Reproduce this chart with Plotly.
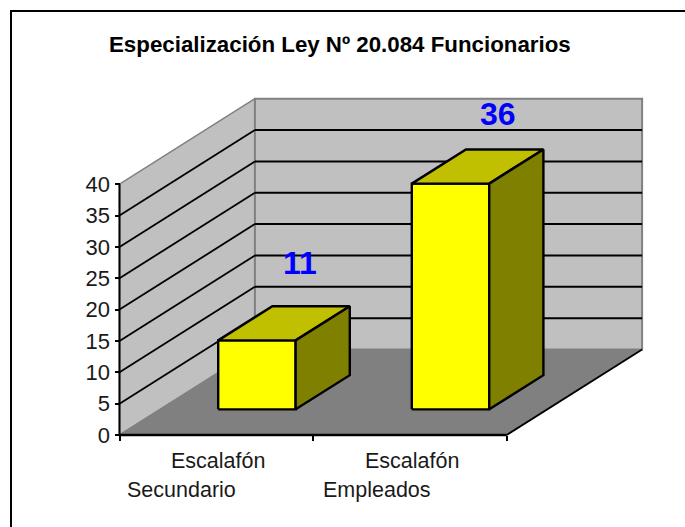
import plotly.graph_objects as go

# ---- data ----
title = "Especialización Ley Nº 20.084 Funcionarios"
categories = [["Escalafón", "Secundario"], ["Escalafón", "Empleados"]]
values = [11, 36]
y_ticks = [0, 5, 10, 15, 20, 25, 30, 35, 40]

# ---- style / projection ----
W, H = 685, 527
X0, Y0 = 119.5, 435.0        # pixel position of category 0, value 0
PX_CAT = 193.6               # pixels per category
PX_VAL = 6.27                # pixels per value unit
DEPTH_X, DEPTH_Y = 135.4, 85.5  # pixel shift of the full chart depth
BAR_LO, BAR_HI = 0.3, 0.7
LABEL_XSHIFT = [16, 20]
LABEL_YSHIFT = [60, 53]
LINE2_XSHIFT = [-35, -33]

WALL, FLOOR, EDGE = "#C0C0C0", "#808080", "#808080"
FRONT, TOP, SIDE = "#FFFF00", "#C0C000", "#808000"
FONT = "Liberation Sans"
INK = "#1a1a1a"


def proj(u, v, d):
    """Oblique projection: category position, value, depth -> axis coordinates."""
    return u + d * DEPTH_X / PX_CAT, v + d * DEPTH_Y / PX_VAL


def poly(pts, fill=None, line="black", width=2.4):
    xs, ys = zip(*[proj(*p) for p in pts])
    closed = fill is not None
    return go.Scatter(
        x=list(xs) + ([xs[0]] if closed else []),
        y=list(ys) + ([ys[0]] if closed else []),
        mode="lines",
        fill="toself" if closed else None,
        fillcolor=fill,
        line=dict(color=line, width=width),
        hoverinfo="skip",
        showlegend=False,
    )


n = len(categories)
top = max(y_ticks)
fig = go.Figure()

# walls and floor
fig.add_trace(poly([(0, 0, 0), (0, 0, 1), (0, top, 1), (0, top, 0)], WALL, EDGE, 1.5))
fig.add_trace(poly([(0, 0, 1), (n, 0, 1), (n, top, 1), (0, top, 1)], WALL, EDGE, 2))
fig.add_trace(poly([(0, 0, 0), (n, 0, 0), (n, 0, 1), (0, 0, 1)], FLOOR, EDGE, 1))

# gridlines
for t in y_ticks[1:-1]:
    fig.add_trace(poly([(0, t, 0), (0, t, 1)], None, "black", 1.8))
    fig.add_trace(poly([(0, t, 1), (n, t, 1)], None, "black", 2))

# front axis lines and right floor edge
fig.add_trace(poly([(0, 0, 0), (0, top, 0)], None, "black", 2))
fig.add_trace(poly([(0, 0, 0), (n, 0, 0)], None, "black", 2.4))
fig.add_trace(poly([(n, 0, 0), (n, 0, 1)], None, "black", 1.8))

# bars
for i, val in enumerate(values):
    a, b = i + BAR_LO, i + BAR_HI
    d0, d1 = BAR_LO, BAR_HI
    fig.add_trace(poly([(a, 0, d0), (b, 0, d0), (b, val, d0), (a, val, d0)], FRONT))
    fig.add_trace(poly([(a, val, d0), (b, val, d0), (b, val, d1), (a, val, d1)], TOP))
    fig.add_trace(poly([(b, 0, d0), (b, 0, d1), (b, val, d1), (b, val, d0)], SIDE))

# data labels
annotations = []
for i, val in enumerate(values):
    x, y = proj(i + 0.5, val, 0.5)
    annotations.append(dict(x=x, y=y, text=str(val), showarrow=False,
                            xshift=LABEL_XSHIFT[i], yshift=LABEL_YSHIFT[i],
                            xanchor="center", yanchor="middle",
                            font=dict(family=FONT, size=32, color="#0000FF", weight="bold")))

# category labels
for i, lines in enumerate(categories):
    annotations.append(dict(x=i + 0.5, y=0, text=lines[0], showarrow=False, xshift=2, yshift=-26,
                            xanchor="center", yanchor="middle",
                            font=dict(family=FONT, size=21.5, color=INK)))
    annotations.append(dict(x=i + 0.5, y=0, text=lines[1], showarrow=False, xshift=LINE2_XSHIFT[i], yshift=-55,
                            xanchor="center", yanchor="middle",
                            font=dict(family=FONT, size=21.5, color=INK)))

# title
annotations.append(dict(xref="paper", yref="paper", x=340 / W, y=1 - 44 / H, text=title, showarrow=False,
                        xanchor="center", yanchor="middle",
                        font=dict(family=FONT, size=22.3, color="black", weight="bold")))

fig.update_layout(
    width=W,
    height=H,
    margin=dict(l=0, r=0, t=0, b=0),
    paper_bgcolor="white",
    plot_bgcolor="white",
    showlegend=False,
    annotations=annotations,
    shapes=[dict(type="rect", xref="paper", yref="paper", x0=11 / W, x1=720 / W, y0=1 - 560 / H, y1=1 - 11 / H,
                 line=dict(color="black", width=2), fillcolor="rgba(0,0,0,0)", layer="below")],
    xaxis=dict(
        range=[-X0 / PX_CAT, (W - X0) / PX_CAT],
        domain=[0, 1],
        anchor="free",
        position=1 - Y0 / H,
        tickmode="array",
        tickvals=list(range(n + 1)),
        showticklabels=False,
        ticks="outside",
        ticklen=5,
        tickwidth=2,
        tickcolor="black",
        showgrid=False,
        zeroline=False,
        showline=False,
    ),
    yaxis=dict(
        range=[-(H - Y0) / PX_VAL, Y0 / PX_VAL],
        domain=[0, 1],
        anchor="free",
        position=X0 / W,
        tickmode="array",
        tickvals=y_ticks,
        ticks="outside",
        ticklen=5,
        tickwidth=2,
        tickcolor="black",
        tickfont=dict(family=FONT, size=22, color=INK),
        showgrid=False,
        zeroline=False,
        showline=False,
    ),
)

fig.write_html("out.html", post_script="document.body.style.margin='0';", config={"displayModeBar": False})
